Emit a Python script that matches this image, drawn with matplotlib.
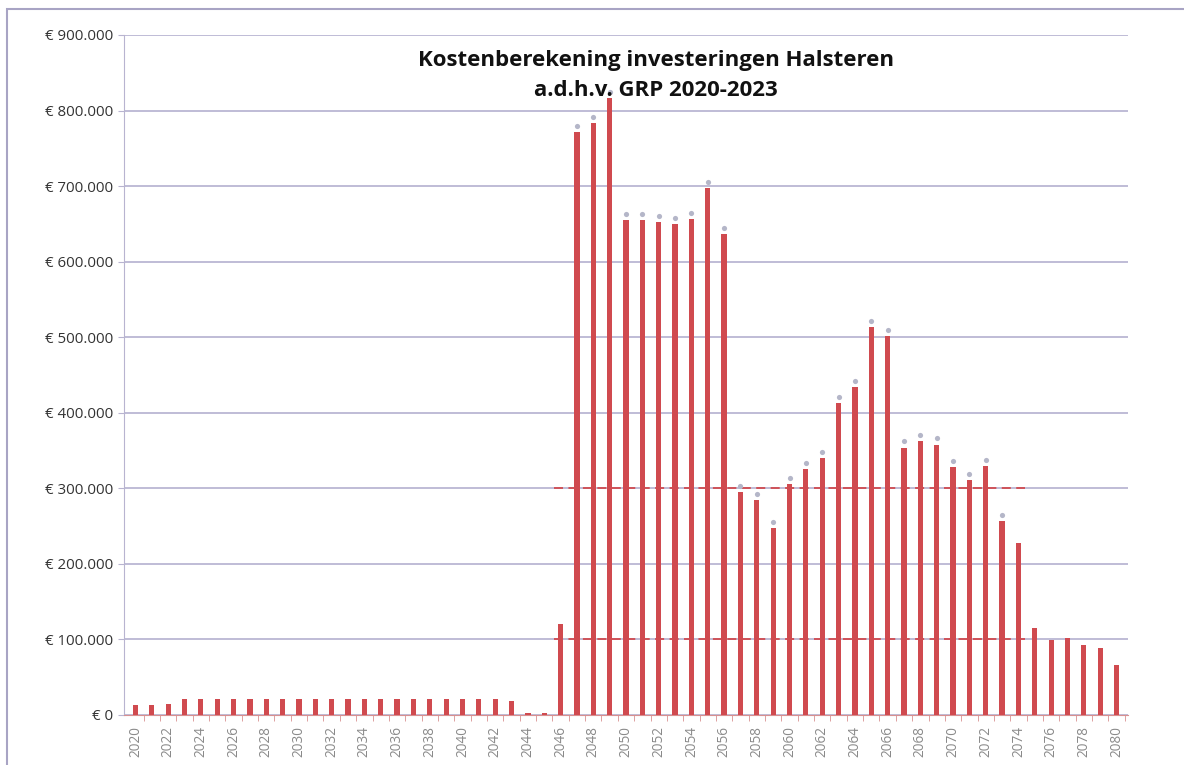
import matplotlib
matplotlib.use("Agg")
import matplotlib.pyplot as plt
from matplotlib.ticker import FuncFormatter, MultipleLocator
from matplotlib.patches import Rectangle

years = list(range(2020, 2081))
costs = [
    13000, 13000, 14500, 21000, 21000, 21000, 21000, 21000, 21000, 21000,
    21000, 21000, 21000, 21000, 21000, 21000, 21000, 21000, 21000, 21000,
    21000, 21000, 21000, 19000, 2000, 2000, 120000, 772000, 783000, 817000,
    655000, 655000, 653000, 650000, 657000, 698000, 637000, 295000, 285000, 247000,
    306000, 326000, 340000, 413000, 434000, 513000, 502000, 354000, 363000, 358000,
    328000, 311000, 330000, 257000, 228000, 115000, 99000, 102000, 93000, 89000,
    66000,
]
title = "Kostenberekening investeringen Halsteren\na.d.h.v. GRP 2020-2023"
tick_years = years[::2]

plt.rcParams['font.family'] = ['Open Sans', 'DejaVu Sans']

fig = plt.figure(figsize=(11.84, 7.65), dpi=100)
ax = fig.add_axes([124 / 1184, 1 - 715 / 765, (1128 - 124) / 1184, (715 - 35) / 765])

# outer frame
fig.patches.append(Rectangle((7 / 1184, -0.05), 1.2, 1.05 - 9 / 765, transform=fig.transFigure,
                             fill=False, edgecolor='#a8a4c4', linewidth=1.5))

bar_color = '#d04a4f'
ax.bar(years, costs, width=0.32, color=bar_color, zorder=3)

# small markers on top of the large bars
big = [(y, c) for y, c in zip(years, costs) if 2047 <= y <= 2073]
ax.scatter([b[0] for b in big], [b[1] + 8000 for b in big], s=14, color='#b4b6c8',
           zorder=4, linewidths=0)

ax.set_xlim(2019.3, 2080.7)
ax.set_ylim(0, 900000)
ax.yaxis.set_major_locator(MultipleLocator(100000))


def euro(v, pos):
    if v == 0:
        return '€ 0'
    return '€ ' + f"{int(v):,}".replace(',', '.')


ax.yaxis.set_major_formatter(FuncFormatter(euro))
ax.grid(axis='y', color='#aeaacb', linewidth=1.1, zorder=0)
ax.set_axisbelow(True)

# red dashed overlay segments on gridlines
for lvl in (100000, 300000):
    ax.hlines(lvl, 2045.6, 2074.4, colors=bar_color, linestyles=(0, (5, 3)),
              linewidth=1.3, zorder=2.5)

for s in ('top', 'right'):
    ax.spines[s].set_visible(False)
ax.spines['left'].set_color('#b8b4d0')
ax.spines['bottom'].set_color('#d89090')

ax.set_xticks(tick_years)
ax.set_xticklabels([str(y) for y in tick_years], rotation=90, fontsize=9.8, color='#8a8a8a')
ax.set_xticks([y + 0.5 for y in years], minor=True)
ax.tick_params(axis='x', which='major', length=0, pad=8)
ax.tick_params(axis='x', which='minor', length=4, color='#d89090')
ax.tick_params(axis='y', length=4, color='#b8b4d0', labelsize=10.8, labelcolor='#333333')

ax.text(0.53, 0.978, title, transform=ax.transAxes, ha='center', va='top',
        fontsize=16, fontweight='bold', color='#111111', linespacing=1.55, zorder=5)

fig.savefig('out.png', dpi=100, facecolor='white')
